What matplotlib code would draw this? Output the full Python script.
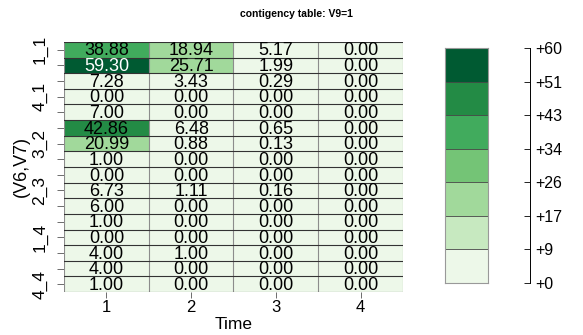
import numpy as np
import matplotlib
matplotlib.use("Agg")
import matplotlib.pyplot as plt
from matplotlib.colors import ListedColormap, BoundaryNorm

plt.rcParams['font.family'] = ['Liberation Sans', 'DejaVu Sans']

# data
time_labels = ["1", "2", "3", "4"]
row_labels = ["1_1", "2_1", "3_1", "4_1", "1_2", "2_2", "3_2", "4_2",
              "1_3", "2_3", "3_3", "4_3", "1_4", "2_4", "3_4", "4_4"]
col1 = [38.88, 59.30, 7.28, 0.00, 7.00, 42.86, 20.99, 1.00,
        0.00, 6.73, 6.00, 1.00, 0.00, 4.00, 4.00, 1.00]
col2 = [18.94, 25.71, 3.43, 0.00, 0.00, 6.48, 0.88, 0.00,
        0.00, 1.11, 0.00, 0.00, 0.00, 1.00, 0.00, 0.00]
col3 = [5.17, 1.99, 0.29, 0.00, 0.00, 0.65, 0.13, 0.00,
        0.00, 0.16, 0.00, 0.00, 0.00, 0.00, 0.00, 0.00]
col4 = [0.00] * 16
scale_max = 60
n_levels = 7

greens = ["#EDF8E9", "#C7E9C0", "#A1D99B", "#74C476", "#41AB5D", "#238B45", "#005A32"]

vals = np.array([col1, col2, col3, col4]).T
nr, nc = vals.shape
bounds = np.linspace(0, scale_max, n_levels + 1)
cmap = ListedColormap(greens)
norm = BoundaryNorm(bounds, cmap.N)

fig = plt.figure(figsize=(5.83, 3.35), dpi=100)
ax = fig.add_axes([0.110, 0.128, 0.581, 0.747])

ax.pcolormesh(np.arange(nc + 1) + 0.5, np.arange(nr + 1) + 0.5, vals,
              cmap=cmap, norm=norm, linewidth=0)
for xb in np.arange(nc + 1) + 0.5:
    ax.axvline(xb, color="#8c8c8c", linewidth=0.8)
for yb in np.arange(nr + 1) + 0.5:
    ax.axhline(yb, color="#333333", linewidth=0.8)
ax.set_xlim(0.5, nc + 0.5)
ax.set_ylim(nr + 0.5, 0.5)

for i in range(nr):
    for j in range(nc):
        v = vals[i, j]
        c = "white" if v >= bounds[-2] else "black"
        ax.text(j + 1, i + 1.08, f"{v:.2f}", ha="center", va="center",
                fontsize=13, color=c)

ax.set_xticks(np.arange(1, nc + 1))
ax.set_xticklabels(time_labels, fontsize=12)
ax.set_yticks(np.arange(1, nr + 1))
ax.set_yticklabels([lab if i % 3 == 0 else "" for i, lab in enumerate(row_labels)],
                   fontsize=12.5, rotation=90, va="center")
ax.tick_params(axis="y", length=5, width=0.6, color="#555555", pad=7)
ax.tick_params(axis="x", length=4, width=0.6, color="#555555", pad=2)
for s in ax.spines.values():
    s.set_visible(False)
ax.set_xlabel("Time", fontsize=12.5, labelpad=1)
ax.set_ylabel("(V6,V7)", fontsize=13, labelpad=2)

fig.text(0.509, 0.958, "contigency table: V9=1", ha="center", va="center",
         fontsize=7.5, fontweight="bold")

# colour key
cax = fig.add_axes([0.763, 0.155, 0.074, 0.702])
cax.pcolormesh([0, 1], bounds, np.array(bounds[:-1] + 0.1).reshape(-1, 1),
               cmap=cmap, norm=norm, linewidth=0)
for b in bounds[1:-1]:
    cax.axhline(b, color="#444444", linewidth=0.6)
cax.set_xlim(0, 1)
cax.set_ylim(0, scale_max)
cax.set_xticks([])
cax.set_yticks([])
for s in cax.spines.values():
    s.set_color("#999999")
    s.set_linewidth(0.8)

sax = fig.add_axes([0.909, 0.155, 0.0001, 0.702])
sax.set_ylim(0, scale_max)
sax.set_xticks([])
for k in ["left", "top", "bottom"]:
    sax.spines[k].set_visible(False)
sax.spines["right"].set_linewidth(0.7)
sax.yaxis.tick_right()
sax.set_yticks(bounds)
sax.set_yticklabels([f"+{b:.0f}" for b in bounds], fontsize=11.5)
sax.tick_params(axis="y", direction="in", length=4, width=0.6, pad=4)

fig.savefig("out.png", dpi=100)
